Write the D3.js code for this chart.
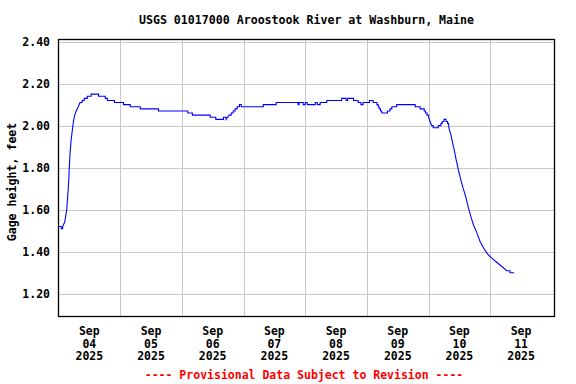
<!DOCTYPE html>
<html><head><meta charset="utf-8">
<script src="https://cdn.jsdelivr.net/npm/d3@7"></script>
<style>body{margin:0;background:#fff}svg{display:block}text{font-family:"DejaVu Sans Mono",monospace;font-weight:bold}</style>
</head><body>
<svg id="c" width="576" height="384"></svg>
<script>
const title = "USGS 01017000 Aroostook River at Washburn, Maine";
const yLabel = "Gage height, feet";
const footer = "---- Provisional Data Subject to Revision ----";
const startTime = "2025-09-04T00:00:00";
// hours since start, gage height (ft)
const hoursSinceStart = [0,1.05,1.6,2.4,2.8,3.2,3.5,3.9,4.2,4.5,4.9,5.3,5.8,6.3,6.9,7.7,8.4,9.2,10,11.2,12.7,15.6,18.2,19,21.8,25.3,27.9,31.8,38.9,50.3,52.1,59,61.2,64.2,65.2,66.4,67.2,68,68.7,69.5,70.4,71.1,79.7,84.7,93.2,93.6,95.2,96,96.8,98.7,99.9,100.7,101.8,104.4,110.2,111.9,112.5,114.8,116.6,117.7,118.5,121,122.4,123.9,124.4,124.8,125.3,125.8,128,129,129.7,131.6,138.8,140.7,142.3,142.8,143.4,144,144.6,145.2,145.8,147.8,148.8,149.3,150,150.8,151.4,151.8,152.1,152.6,153,153.5,153.9,154.7,155.6,156.6,157.5,158.5,159.5,160.4,161.4,162.8,164,165.3,166.9,168.6,170.5,172.5,174.4,175.7,177.3];
const gageHeight = [1.52,1.51,1.52,1.54,1.57,1.60,1.65,1.72,1.80,1.87,1.93,1.97,2.02,2.05,2.07,2.09,2.11,2.12,2.13,2.14,2.15,2.14,2.13,2.12,2.11,2.10,2.09,2.08,2.07,2.06,2.05,2.04,2.03,2.04,2.03,2.05,2.06,2.07,2.08,2.09,2.10,2.09,2.10,2.11,2.10,2.11,2.10,2.11,2.10,2.10,2.11,2.10,2.11,2.12,2.13,2.12,2.13,2.12,2.11,2.10,2.11,2.12,2.11,2.10,2.09,2.08,2.07,2.06,2.07,2.08,2.09,2.10,2.09,2.08,2.07,2.06,2.05,2.04,2.02,2.00,1.99,2.00,2.01,2.02,2.03,2.02,2.01,2.00,1.98,1.96,1.94,1.91,1.89,1.84,1.79,1.74,1.70,1.66,1.61,1.57,1.53,1.49,1.45,1.42,1.39,1.37,1.35,1.33,1.31,1.30,1.30];
const yTicks = [1.20,1.40,1.60,1.80,2.00,2.20,2.40];
const xTickDays = ["2025-09-04","2025-09-05","2025-09-06","2025-09-07","2025-09-08","2025-09-09","2025-09-10","2025-09-11"];
const xTickLabels = [["Sep","04","2025"],["Sep","05","2025"],["Sep","06","2025"],["Sep","07","2025"],["Sep","08","2025"],["Sep","09","2025"],["Sep","10","2025"],["Sep","11","2025"]];

const svg = d3.select("#c");
const L = 58.5, R = 554.5, T = 39.5, B = 316.5;
const t0 = new Date(startTime);
const hr = 3600e3;
const x = d3.scaleTime().domain([t0, new Date(+t0 + 193*hr)]).range([L, R]);
const y = d3.scaleLinear().domain([1.092, 2.41]).range([B, T]);
const data = hoursSinceStart.map((h,i)=>({t:new Date(+t0 + h*hr), v:gageHeight[i]}));
// small changes drawn as steps, large changes as slopes
const pts = [];
data.forEach((d,i)=>{
  if (i>0) {
    const p = data[i-1];
    if (Math.abs(d.v - p.v) < 0.0151) pts.push({t:d.t, v:p.v});
  }
  pts.push(d);
});

// grid
const g = svg.append("g");
g.selectAll(".hg").data(yTicks).join("line")
  .attr("x1",L).attr("x2",R)
  .attr("y1",d=>Math.round(y(d))+0.5).attr("y2",d=>Math.round(y(d))+0.5)
  .attr("stroke","#c8c8c8").attr("stroke-width",1);
const midnights = d3.timeDay.range(new Date(+t0+1), new Date(+t0+8*24*hr));
g.selectAll(".vg").data(midnights).join("line")
  .attr("y1",T).attr("y2",B)
  .attr("x1",d=>Math.round(x(d))+0.5).attr("x2",d=>Math.round(x(d))+0.5)
  .attr("stroke","#c8c8c8").attr("stroke-width",1);

// line
svg.append("path").datum(pts)
  .attr("fill","none").attr("stroke","#0000ff").attr("stroke-width",1.1)
  .attr("d", d3.line().x(d=>x(d.t)).y(d=>y(d.v)));

// frame
svg.append("rect").attr("x",L).attr("y",T).attr("width",R-L).attr("height",B-T)
  .attr("fill","none").attr("stroke","#000").attr("stroke-width",1.3);

// y tick labels
svg.selectAll(".yl").data(yTicks).join("text")
  .attr("x",50).attr("y",d=>y(d)+4).attr("text-anchor","end")
  .attr("font-size","11.5px").attr("fill","#000")
  .text(d=>d3.format(".2f")(d));

// x tick labels at noon
xTickDays.forEach((d,i)=>{
  const xc = x(new Date(d+"T12:00:00"));
  const tx = svg.append("text").attr("text-anchor","middle").attr("font-size","11.5px").attr("fill","#000");
  xTickLabels[i].forEach((s,j)=>{
    tx.append("tspan").attr("x",xc).attr("y",335+j*12.5).text(s);
  });
});

svg.append("text").attr("x",(L+R)/2).attr("y",24).attr("text-anchor","middle")
  .attr("font-size","11.6px").attr("fill","#000").text(title);
svg.append("text").attr("transform","translate(15.5,182) rotate(-90)").attr("text-anchor","middle")
  .attr("font-size","11.6px").attr("fill","#000").text(yLabel);
svg.append("text").attr("x",304).attr("y",378.5).attr("text-anchor","middle")
  .attr("font-size","11.5px").attr("fill","#ff0000").text(footer);
</script>
</body></html>
